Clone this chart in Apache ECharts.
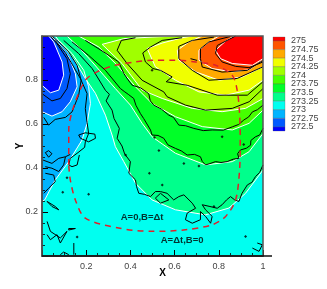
<!DOCTYPE html>
<html><head><meta charset="utf-8">
<style>html,body{margin:0;padding:0;background:#fff}#c{width:327px;height:289px}</style>
<script src="https://cdn.jsdelivr.net/npm/echarts@6/dist/echarts.min.js"></script></head>
<body><div id="c"></div>
<script>
const xTicks=['0.2','0.4','0.6','0.8','1'];
const yTicks=['0.2','0.4','0.6','0.8'];
const legendLevels=[275,274.75,274.5,274.25,274,273.75,273.5,273.25,273,272.75,272.5];
const legendColors=['#ff0000','#ff5500','#ffaa00','#f0ff00','#a0ff00','#46ff00','#00ff28','#00ff8c','#00fff0','#00b4ff','#005aff','#0000ff'];
const legendEnds=[275.116,272.384];

// white contours (filled bands)
const bandSky=[[0,.248],[.012,.255],[.060,.346],[.121,.429],[.181,.527],[.204,.603],[.219,.693],[.211,.769],[.189,.844],[.136,.920],[.083,.973],[.038,1]];
const bandAzure=[[0,.656],[.045,.636],[.091,.656],[.128,.701],[.159,.769],[.151,.829],[.121,.905],[.076,.965],[.038,1]];
const bandBlue=[[0,.776],[.038,.742],[.076,.754],[.098,.822],[.091,.882],[.053,.973],[.030,1]];
const bandSpring=[[.060,1],[.098,.950],[.143,.897],[.196,.807],[.242,.739],[.287,.640],[.317,.550],[.332,.497],[.370,.429],[.423,.331],[.498,.255],[.604,.210],[.740,.187],[.846,.218],[.921,.285],[1,.391]];
const bandGreenA=[[.113,1],[.166,.950],[.227,.882],[.279,.822],[.332,.761],[.400,.686],[.453,.603],[.498,.542],[.604,.467],[.740,.414],[.861,.429],[.937,.474],[1,.557]];
const bandGreenB=[[.166,1],[.257,.950],[.340,.867],[.423,.769],[.498,.693],[.604,.633],[.725,.588],[.861,.573],[.937,.603],[1,.663]];
const bandLime=[[.604,1],[.498,.995],[.370,.988],[.272,.962],[.362,.875],[.453,.754],[.544,.716],[.680,.671],[.815,.656],[.921,.671],[1,.716]];
const bandYellow=[[.680,1],[.634,.992],[.544,.968],[.476,.943],[.513,.860],[.604,.799],[.710,.746],[.831,.731],[.937,.754],[1,.799]];
const bandOrange=[[.725,1],[.665,.973],[.612,.935],[.619,.890],[.695,.837],[.801,.799],[.906,.814],[1,.860]];
const bandOrangeRed=[[.801,1],[.755,.973],[.710,.935],[.710,.890],[.770,.852],[.861,.837],[.937,.847],[1,.890]];
const bandRed=[[.869,1],[.831,.977],[.785,.935],[.808,.897],[.861,.875],[.952,.867],[1,.897]];

// black contours
const blackA=[[0,.738],[.045,.705],[.083,.716],[.113,.761],[.128,.829],[.113,.897],[.068,.965],[.038,1]];
const blackB=[[.008,.630],[.030,.595],[.060,.621],[.106,.630],[.136,.655],[.166,.731],[.177,.799],[.159,.867],[.121,.927],[.076,.973],[.045,1]];
const blackC=[[.060,.980],[.106,.924],[.174,.806],[.204,.738],[.196,.670],[.204,.607],[.211,.557],[.196,.519],[.193,.494],[.163,.470],[.128,.444],[.121,.414],[.136,.406],[.159,.414],[.169,.459]];
const blackD=[[.098,.980],[.166,.920],[.227,.852],[.264,.791],[.287,.753],[.305,.735],[.290,.705],[.317,.663],[.326,.625],[.350,.580],[.340,.535],[.362,.500],[.374,.464],[.400,.429],[.393,.376],[.423,.346],[.428,.315],[.438,.285],[.465,.280],[.491,.270],[.513,.293],[.536,.293],[.566,.285],[.596,.255],[.619,.270],[.642,.278],[.680,.240],[.695,.217],[.657,.195],[.649,.165],[.680,.149],[.717,.165],[.717,.202],[.740,.180],[.763,.149],[.770,.180],[.740,.210],[.725,.233],[.760,.225],[.793,.217],[.815,.233],[.835,.255],[.853,.270],[.872,.255],[.891,.248],[.905,.285],[.929,.323],[.950,.335],[.966,.361],[.985,.380],[1,.414]];
const blackE=[[.136,.973],[.211,.912],[.287,.844],[.355,.761],[.372,.748],[.390,.735],[.415,.716],[.425,.685],[.445,.648],[.460,.625],[.475,.600],[.491,.573],[.498,.550],[.525,.548],[.551,.535],[.570,.505],[.604,.489],[.630,.478],[.657,.459],[.690,.462],[.717,.451],[.725,.430],[.740,.414],[.760,.420],[.785,.429],[.810,.425],[.838,.429],[.865,.440],[.891,.444],[.885,.465],[.898,.482],[.925,.490],[.944,.504],[.945,.525],[.966,.542],[.985,.550],[1,.580]];
const blackF=[[.196,.980],[.272,.932],[.347,.882],[.370,.830],[.390,.800],[.408,.776],[.445,.765],[.483,.738],[.490,.705],[.506,.686],[.540,.668],[.574,.640],[.595,.630],[.619,.595],[.650,.592],[.687,.580],[.730,.570],[.770,.573],[.820,.572],[.861,.587],[.890,.598],[.913,.618],[.935,.632],[.952,.655],[.975,.665],[1,.686]];
const blackG=[[.423,.992],[.359,.980],[.340,.935],[.385,.875],[.453,.799],[.551,.746],[.566,.724],[.649,.686],[.740,.663],[.861,.671],[.937,.701],[1,.761]];
const blackH=[[.634,.992],[.544,.980],[.491,.950],[.456,.923],[.468,.882],[.502,.852],[.536,.844],[.589,.814],[.562,.792],[.657,.776],[.793,.731],[.929,.731],[1,.792]];
const blackI=[[.778,.995],[.680,.980],[.619,.953],[.619,.897],[.680,.844],[.755,.799],[.883,.807],[1,.860]];
const blackJ=[[.853,.998],[.755,.973],[.717,.942],[.717,.897],[.725,.859],[.815,.836],[.929,.844],[1,.889]];
const blackK=[[.876,1],[.793,.957],[.785,.920],[.815,.882],[.876,.862],[.937,.856],[1,.882]];
const blackL=[[.005,.436],[.045,.421],[.076,.444],[.106,.451],[.128,.462]];
const blackL2=[[.106,.451],[.098,.414],[.076,.384],[.045,.399],[.015,.406]];
const blackM=[[.015,.376],[.053,.368],[.060,.338],[.030,.308],[.008,.285]];
const blackN=[[.023,.157],[.038,.112],[.083,.082],[.113,.112],[.083,.059],[.068,.097],[.038,.074],[.023,.097]];
const blackO=[[.144,.059],[.144,.006]];
const blackO2=[[.083,.006],[.098,.018],[.121,.006]];
const blackP=[[.952,.036],[.982,.021],[.997,.051],[.974,.059]];
const blackQ=[[.672,.897],[.702,.889]];
const loopA=[[.166,.550],[.196,.560],[.239,.554],[.242,.535],[.211,.519],[.174,.535],[.166,.550]];
const loopB=[[.015,.470],[.030,.479],[.045,.465],[.030,.449],[.015,.470]];
const loopC=[[.536,.285],[.574,.255],[.536,.240],[.513,.263],[.536,.285]];
const loopD=[[.023,.248],[.060,.225],[.076,.210],[.045,.225],[.023,.248]];
const loopE=[[.121,.125],[.151,.125],[.151,.118],[.121,.118],[.121,.125]];
const islands=[[.094,.290],[.211,.281],[.113,.356],[.486,.376],[.544,.323],[.642,.421],[.710,.409],[.529,.479],[.509,.539],[.815,.542],[.913,.507],[.498,.844],[.378,.459],[.778,.225],[.921,.089],[.159,.086]];

// red dashed curve
const dashedCurve=[[.121,.414],[.121,.573],[.143,.678],[.196,.799],[.249,.837],[.332,.867],[.423,.882],[.498,.890],[.604,.890],[.695,.882],[.785,.867],[.861,.821],[.883,.754],[.894,.648],[.897,.527],[.894,.391],[.876,.255],[.831,.180],[.770,.142],[.649,.119],[.498,.112],[.347,.127],[.196,.172],[.151,.255],[.128,.346],[.121,.414]];

const annotations=[{text:'A=0,B=\u0394t',x:.453,y:.177},{text:'A=\u0394t,B=0',x:.634,y:.071}];

const bands=[
 {edge:bandSky,corner:[[0,1]],color:legendColors[9]},
 {edge:bandAzure,corner:[[0,1]],color:legendColors[10]},
 {edge:bandBlue,corner:[[0,1]],color:legendColors[11]},
 {edge:bandSpring,corner:[[1,1]],color:legendColors[7]},
 {edge:bandGreenA,corner:[[1,1]],color:legendColors[6]},
 {edge:bandGreenB,corner:[[1,1]],color:legendColors[5]},
 {edge:bandLime,corner:[[1,1]],color:legendColors[4]},
 {edge:bandYellow,corner:[[1,1]],color:legendColors[3]},
 {edge:bandOrange,corner:[[1,1]],color:legendColors[2]},
 {edge:bandOrangeRed,corner:[[1,1]],color:legendColors[1]},
 {edge:bandRed,corner:[[1,1]],color:legendColors[0]}
];
const blackLines=[blackA,blackB,blackC,blackD,blackE,blackF,blackG,blackH,blackI,blackJ,blackK,blackL,blackL2,blackM,blackN,blackO,blackO2,blackP,blackQ,loopA,loopB,loopC,loopD,loopE];

// colour bar rows: [upper level, lower level, colour]
const barRows=legendColors.map((c,i)=>[i===0?legendEnds[0]:legendLevels[i-1], i===legendLevels.length?legendEnds[1]:legendLevels[i], c]);

const font='"Liberation Sans",Arial,sans-serif';
const line=(pts,color,width,z)=>({type:'line',data:pts,showSymbol:false,symbol:'none',silent:true,animation:false,z,clip:true,
  lineStyle:{color,width},itemStyle:{color}});
const series=[
 {type:'custom',data:bands.map((b,i)=>[i]),silent:true,animation:false,z:1,clip:true,
  renderItem:(p,api)=>{const b=bands[p.dataIndex];
    return {type:'polygon',shape:{points:b.edge.concat(b.corner).map(q=>api.coord(q))},style:{fill:b.color}};}},
 ...bands.map(b=>line(b.edge,'#ffffff',1,2)),
 ...blackLines.map(l=>line(l,'#000000',1,3)),
 {type:'scatter',data:islands,symbol:'diamond',symbolSize:3,silent:true,animation:false,z:3,
  itemStyle:{color:'#000'}},
 {type:'line',data:dashedCurve,smooth:.3,showSymbol:false,symbol:'none',silent:true,animation:false,z:4,
  lineStyle:{color:'#e0202a',width:1.5,type:[6,5]}},
 {type:'scatter',data:annotations.map(a=>[a.x,a.y,a.text]),symbolSize:0,silent:true,animation:false,z:5,
  label:{show:true,position:'inside',formatter:p=>p.value[2],color:'#000',fontFamily:font,fontSize:9.5,fontWeight:'bold'}},
 {type:'custom',xAxisIndex:1,yAxisIndex:1,data:barRows.map((r,i)=>[i]),silent:true,animation:false,
  renderItem:(p,api)=>{const r=barRows[p.dataIndex],a=api.coord([0,r[0]]),b=api.coord([1,r[1]]);
    return {type:'rect',shape:{x:a[0],y:a[1],width:b[0]-a[0],height:b[1]-a[1]},
      style:{fill:r[2],stroke:'rgba(90,90,90,.6)',lineWidth:.5}};}}
];
const main={min:0,max:1,interval:.2,z:6,minorTick:{show:true,splitNumber:4,length:3,lineStyle:{color:'#000',width:.8}},
  axisLine:{show:true,onZero:false,lineStyle:{color:'#222',width:1.5}},
  axisTick:{show:true,inside:true,length:6,lineStyle:{color:'#000',width:1}},
  splitLine:{show:false},minorSplitLine:{show:false}};
const opt={animation:false,backgroundColor:'#fff',
 grid:[{left:42,top:36,width:221,height:220,show:true,backgroundColor:legendColors[8],borderWidth:0,z:0},
       {left:273,top:32.4,width:12,height:103.2,show:false}],
 xAxis:[{...main,type:'value',gridIndex:0,name:'X',nameLocation:'middle',nameGap:12,nameMoveOverlap:false,
   nameTextStyle:{fontFamily:font,fontSize:10,fontWeight:'bold',color:'#000',padding:[0,0,0,20]},
   axisLabel:{margin:6,fontFamily:font,fontSize:9,color:'#444',formatter:v=>xTicks.find(t=>+t===+v.toFixed(1))||''}},
  {type:'value',gridIndex:1,min:0,max:1,show:false}],
 yAxis:[{...main,type:'value',gridIndex:0,name:'Y',nameLocation:'middle',nameGap:17,nameMoveOverlap:false,
   nameTextStyle:{fontFamily:font,fontSize:10,fontWeight:'bold',color:'#000'},
   axisLabel:{margin:4,fontFamily:font,fontSize:9,color:'#444',formatter:v=>yTicks.find(t=>+t===+v.toFixed(1))||''}},
  {type:'value',gridIndex:1,position:'right',min:272.25,max:275.25,interval:.25,
   axisLine:{show:false},axisTick:{show:false},splitLine:{show:false},
   axisLabel:{margin:6,padding:[2,0,0,0],fontFamily:font,fontSize:9,color:'#444',
     formatter:v=>legendLevels.includes(v)?String(v):''}}],
 graphic:[{type:'rect',shape:{x:42,y:36,width:221,height:220},style:{fill:'none',stroke:'#555',lineWidth:1.5},z:10},
          {type:'line',shape:{x1:42,y1:256,x2:272,y2:256},style:{stroke:'#111',lineWidth:1.5},z:11}],
 series
};
echarts.init(document.getElementById('c'),null,{renderer:'canvas'}).setOption(opt);
</script></body></html>
